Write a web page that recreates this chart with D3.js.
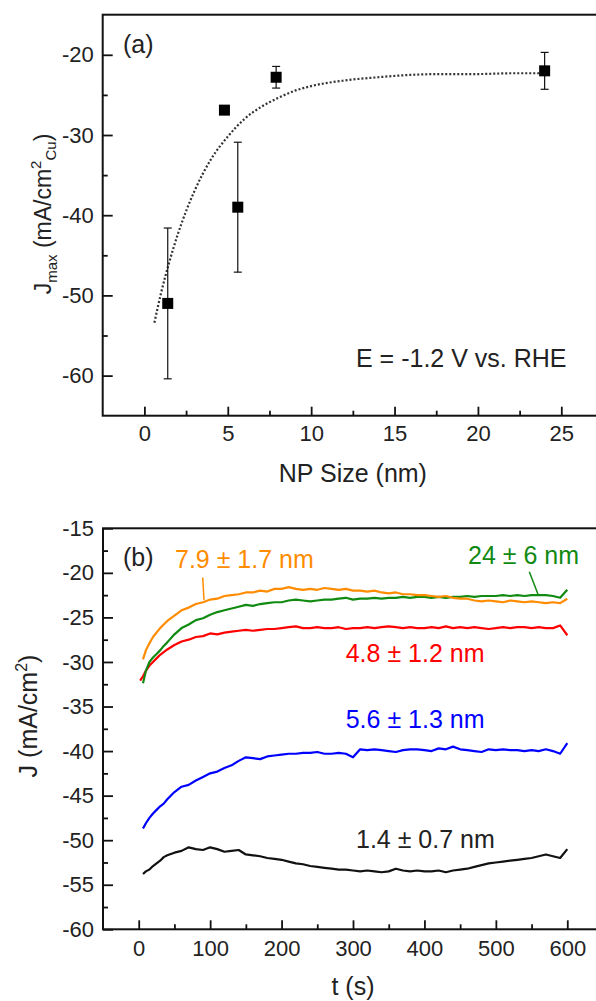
<!DOCTYPE html>
<html>
<head>
<meta charset="utf-8">
<script src="https://cdn.jsdelivr.net/npm/d3@7"></script>
<style>
  html, body { margin: 0; padding: 0; background: #fff; }
  svg { display: block; }
  text { font-family: "Liberation Sans", Arial, sans-serif; fill: #222; }
</style>
</head>
<body>
<svg id="fig" width="596" height="1001"></svg>
<script>
// ---------- panel (a): maximum current density vs. particle size ----------
const npSize   = [1.4, 4.8, 5.6, 7.9, 24];
const jMax     = [-51.0, -26.9, -39.0, -22.8, -22.0];
const jMaxErr  = [9.4, 0.4, 8.1, 1.35, 2.3];

// exponential trend line through the points
const fitSize  = [0.6, 1, 1.5, 2, 2.5, 3, 4, 5, 6, 7, 8, 9, 10, 12, 14, 16, 18, 20, 22, 24];
const fitJ     = [-53.4, -49.7, -45.8, -42.4, -39.5, -37.0, -33.0, -30.2, -28.0, -26.5,
                  -25.4, -24.5, -23.9, -23.2, -22.8, -22.5, -22.4, -22.4, -22.3, -22.3];

const sizeTicks      = [0, 5, 10, 15, 20, 25];
const sizeMinorTicks = [2.5, 7.5, 12.5, 17.5, 22.5];
const jMaxTicks      = [-60, -50, -40, -30, -20];
const jMaxMinorTicks = [-55, -45, -35, -25];

// ---------- panel (b): chronoamperometry at -1.2 V ----------
const timeS = [2, 6, 10, 15, 20, 25, 30, 35, 40,
  50, 60, 70, 80, 90, 100, 110, 120, 130, 140, 150, 160, 170, 180, 190, 200,
  210, 220, 230, 240, 250, 260, 270, 280, 290, 300, 310, 320, 330, 340, 350,
  360, 370, 380, 390, 400, 410, 420, 430, 440, 450, 460, 470, 480, 490, 500,
  510, 520, 530, 540, 550, 560, 570, 580, 590, 600];

const jNm7_9 = [null, -29.7, -28.7, -27.9, -27.2, -26.7, -26.2, -25.8, -25.4,
  -24.8, -24.2, -23.9, -23.5, -23.3, -23.0, -22.9, -22.6, -22.5, -22.4, -22.2, -22.2, -22.0, -22.1, -21.8, -21.8,
  -21.6, -21.8, -21.9, -21.8, -21.9, -21.7, -21.8, -21.9, -21.8, -22.0, -22.0, -22.1, -22.0, -22.2, -22.3,
  -22.2, -22.4, -22.4, -22.5, -22.5, -22.6, -22.7, -22.6, -22.8, -22.9, -22.9, -23.1, -23.2, -23.1, -23.2,
  -23.3, -23.1, -23.2, -23.3, -23.2, -23.3, -23.4, -23.3, -23.4, -22.9];

const jNm24 = [null, -32.4, -31.0, -30.0, -29.5, -29.1, -28.7, -28.2, -27.8,
  -26.9, -26.2, -25.8, -25.3, -25.1, -24.7, -24.4, -24.2, -24.0, -23.8, -23.6, -23.7, -23.5, -23.4, -23.3, -23.3,
  -23.1, -23.0, -23.1, -23.2, -23.1, -23.0, -23.0, -22.9, -22.8, -23.0, -22.9, -22.9, -22.8, -22.9, -22.8,
  -22.8, -22.7, -22.8, -22.7, -22.7, -22.8, -22.7, -22.8, -22.7, -22.7, -22.6, -22.7, -22.6, -22.6, -22.6,
  -22.5, -22.6, -22.5, -22.6, -22.5, -22.5, -22.5, -22.6, -22.8, -21.9];

const jNm4_8 = [-32.1, -31.6, -31.0, -30.4, -30.0, -29.6, -29.2, -28.9, -28.6,
  -28.1, -27.7, -27.5, -27.2, -27.1, -26.8, -26.9, -26.7, -26.6, -26.5, -26.4, -26.5, -26.4, -26.3, -26.3, -26.2,
  -26.1, -26.0, -26.2, -26.2, -26.1, -26.2, -26.2, -26.1, -26.3, -26.2, -26.2, -26.1, -26.2, -26.1, -26.0,
  -26.1, -26.2, -26.1, -26.2, -26.2, -26.1, -26.2, -26.0, -26.2, -26.1, -26.2, -26.1, -26.2, -26.3, -26.2,
  -26.1, -26.2, -26.1, -26.1, -26.2, -26.1, -26.2, -26.2, -25.9, -27.0];

const jNm5_6 = [null, -48.7, -48.1, -47.5, -47.0, -46.6, -46.2, -45.9, -45.4,
  -44.6, -44.0, -43.8, -43.3, -42.9, -42.5, -42.3, -41.9, -41.6, -41.1, -40.7, -40.8, -40.9, -40.6, -40.5, -40.4,
  -40.3, -40.3, -40.2, -40.2, -40.1, -40.3, -40.3, -40.2, -40.3, -40.7, -39.8, -39.9, -39.8, -39.9, -40.0,
  -40.1, -39.9, -39.8, -39.8, -39.9, -40.0, -39.7, -39.8, -39.5, -39.8, -39.9, -40.0, -40.1, -39.8, -39.9,
  -39.8, -39.9, -39.9, -40.0, -39.9, -40.0, -39.8, -40.0, -40.3, -39.1];

const jNm1_4 = [null, -53.8, -53.5, -53.3, -52.9, -52.6, -52.3, -51.9, -51.7,
  -51.4, -51.2, -50.8, -51.0, -51.1, -50.8, -51.0, -51.3, -51.2, -51.1, -51.6, -51.7, -51.8, -52.0, -52.1, -52.2,
  -52.4, -52.6, -52.7, -52.9, -53.0, -53.1, -53.2, -53.3, -53.3, -53.4, -53.5, -53.4, -53.5, -53.6, -53.5,
  -53.2, -53.4, -53.5, -53.4, -53.5, -53.5, -53.4, -53.6, -53.4, -53.3, -53.2, -53.0, -52.8, -52.6, -52.5,
  -52.4, -52.3, -52.2, -52.1, -52.0, -51.8, -51.6, -51.8, -52.0, -51.0];

const seriesNames  = ["1.4 ± 0.7 nm", "5.6 ± 1.3 nm", "4.8 ± 1.2 nm", "24 ± 6 nm", "7.9 ± 1.7 nm"];
const seriesColors = ["#111111", "#0000ff", "#ff0000", "#118a11", "#ff8c00"];

const timeTicks      = [0, 100, 200, 300, 400, 500, 600];
const timeMinorTicks = [50, 150, 250, 350, 450, 550];
const jTicks         = [-60, -55, -50, -45, -40, -35, -30, -25, -20, -15];
const jMinorTicks    = [-57.5, -52.5, -47.5, -42.5, -37.5, -32.5, -27.5, -22.5, -17.5];

// ---------- drawing ----------
const svg = d3.select("#fig");
svg.append("rect").attr("width", 596).attr("height", 1001).attr("fill", "#fff");

const TICK_FONT = 22;
const plainNumber = d => String(d);   // hyphen-minus, as in the original figure

function frameAndAxes(g, x, y, xMajor, xMinor, yMajor, yMinor, xPad) {
  const [x0, x1] = x.range();
  const [y0, y1] = y.range();
  g.append("g").attr("transform", `translate(0,${y0})`)
    .call(d3.axisBottom(x).tickValues(xMajor).tickFormat(plainNumber)
      .tickSize(-9).tickSizeOuter(0).tickPadding(xPad));
  g.append("g").attr("transform", `translate(0,${y0})`)
    .call(d3.axisBottom(x).tickValues(xMinor).tickSize(-5).tickSizeOuter(0).tickFormat(""));
  g.append("g").attr("transform", `translate(${x0},0)`)
    .call(d3.axisLeft(y).tickValues(yMajor).tickFormat(plainNumber)
      .tickSize(-10).tickSizeOuter(0).tickPadding(9));
  g.append("g").attr("transform", `translate(${x0},0)`)
    .call(d3.axisLeft(y).tickValues(yMinor).tickSize(-5).tickSizeOuter(0).tickFormat(""));
  g.selectAll(".domain").remove();
  g.selectAll(".tick line").attr("stroke", "#111").attr("stroke-width", 1.8);
  g.selectAll(".tick text").attr("font-size", TICK_FONT)
    .attr("font-family", "Liberation Sans, Arial, sans-serif").attr("fill", "#222");
  g.append("rect")
    .attr("x", x0).attr("y", y1).attr("width", x1 - x0).attr("height", y0 - y1)
    .attr("fill", "none").attr("stroke", "#111").attr("stroke-width", 2);
}

// ---- panel (a) ----
const xA = d3.scaleLinear().domain([-2.5, 27.5]).range([102.7, 603]);
const yA = d3.scaleLinear().domain([-65, -15]).range([415.7, 14.7]);
const gA = svg.append("g");
frameAndAxes(gA, xA, yA, sizeTicks, sizeMinorTicks, jMaxTicks, jMaxMinorTicks, 10);

const fitPts = fitSize.map((s, i) => [s, fitJ[i]]);
gA.append("path")
  .attr("d", d3.line().x(d => xA(d[0])).y(d => yA(d[1])).curve(d3.curveMonotoneX)(fitPts))
  .attr("fill", "none").attr("stroke", "#333").attr("stroke-width", 2.2)
  .attr("stroke-dasharray", "2,2");

const pts = npSize.map((s, i) => ({ s, j: jMax[i], e: jMaxErr[i] }));
const eb = gA.append("g").attr("stroke", "#111").attr("stroke-width", 1.2);
pts.forEach(p => {
  const cx = xA(p.s);
  eb.append("line").attr("x1", cx).attr("x2", cx).attr("y1", yA(p.j + p.e)).attr("y2", yA(p.j - p.e));
  [p.j + p.e, p.j - p.e].forEach(v =>
    eb.append("line").attr("x1", cx - 4).attr("x2", cx + 4).attr("y1", yA(v)).attr("y2", yA(v)));
});
gA.selectAll("rect.pt").data(pts).join("rect").attr("class", "pt")
  .attr("x", d => xA(d.s) - 5.5).attr("y", d => yA(d.j) - 5.5)
  .attr("width", 11).attr("height", 11).attr("fill", "#000");

gA.append("text").attr("x", 123).attr("y", 53).attr("font-size", 25).text("(a)");
gA.append("text").attr("x", 356).attr("y", 367).attr("font-size", 25).text("E = -1.2 V vs. RHE");
gA.append("text").attr("x", (102.7 + 603) / 2).attr("y", 481.7).attr("font-size", 25)
  .attr("text-anchor", "middle").text("NP Size (nm)");

const yTitleA = gA.append("text").attr("transform", "translate(51,214) rotate(-90)")
  .attr("text-anchor", "middle").attr("font-size", 23);
yTitleA.append("tspan").text("J");
yTitleA.append("tspan").attr("font-size", 15).attr("dy", 6).text("max");
yTitleA.append("tspan").attr("dy", -6).text(" (mA/cm");
yTitleA.append("tspan").attr("font-size", 15).attr("dy", -10).text("2");
yTitleA.append("tspan").attr("font-size", 15).attr("dy", 15).text("Cu");
yTitleA.append("tspan").attr("dy", -5).text(")");

// ---- panel (b) ----
const xB = d3.scaleLinear().domain([-50, 650]).range([103, 603]);
const yB = d3.scaleLinear().domain([-60, -15]).range([929.3, 528.3]);
const gB = svg.append("g");
frameAndAxes(gB, xB, yB, timeTicks, timeMinorTicks, jTicks, jMinorTicks, 11);

const seriesValues = [jNm1_4, jNm5_6, jNm4_8, jNm24, jNm7_9];
const line = d3.line().defined(d => d[1] != null).x(d => xB(d[0])).y(d => yB(d[1]));
seriesValues.forEach((vals, k) => {
  const data = timeS.map((t, i) => [t, vals[i]]);
  gB.append("path").attr("d", line(data))
    .attr("fill", "none").attr("stroke", seriesColors[k]).attr("stroke-width", 2.2)
    .attr("stroke-linejoin", "round");
});

// curve labels
const labelPos = [
  { x: 356, y: 848.3 },
  { x: 345.7, y: 728.3 },
  { x: 345.7, y: 661.7 },
  { x: 468, y: 564 },
  { x: 175, y: 568.3 }
];
seriesNames.forEach((name, k) => {
  gB.append("text").attr("x", labelPos[k].x).attr("y", labelPos[k].y)
    .attr("font-size", 25).style("fill", seriesColors[k] === "#111111" ? "#222" : seriesColors[k])
    .text(name);
});
// leader lines from labels to their curves
gB.append("line").attr("x1", 202.7).attr("y1", 577.5).attr("x2", 204).attr("y2", 600)
  .attr("stroke", seriesColors[4]).attr("stroke-width", 1.5);
gB.append("line").attr("x1", 529.3).attr("y1", 571.7).attr("x2", 538.3).attr("y2", 595)
  .attr("stroke", seriesColors[3]).attr("stroke-width", 1.5);

gB.append("text").attr("x", 123).attr("y", 566).attr("font-size", 25).text("(b)");
gB.append("text").attr("x", (103 + 603) / 2).attr("y", 995).attr("font-size", 25)
  .attr("text-anchor", "middle").text("t (s)");

const yTitleB = gB.append("text").attr("transform", "translate(37,716) rotate(-90)")
  .attr("text-anchor", "middle").attr("font-size", 25);
yTitleB.append("tspan").text("J (mA/cm");
yTitleB.append("tspan").attr("font-size", 16).attr("dy", -10).text("2");
yTitleB.append("tspan").attr("dy", 10).text(")");
</script>
</body>
</html>
